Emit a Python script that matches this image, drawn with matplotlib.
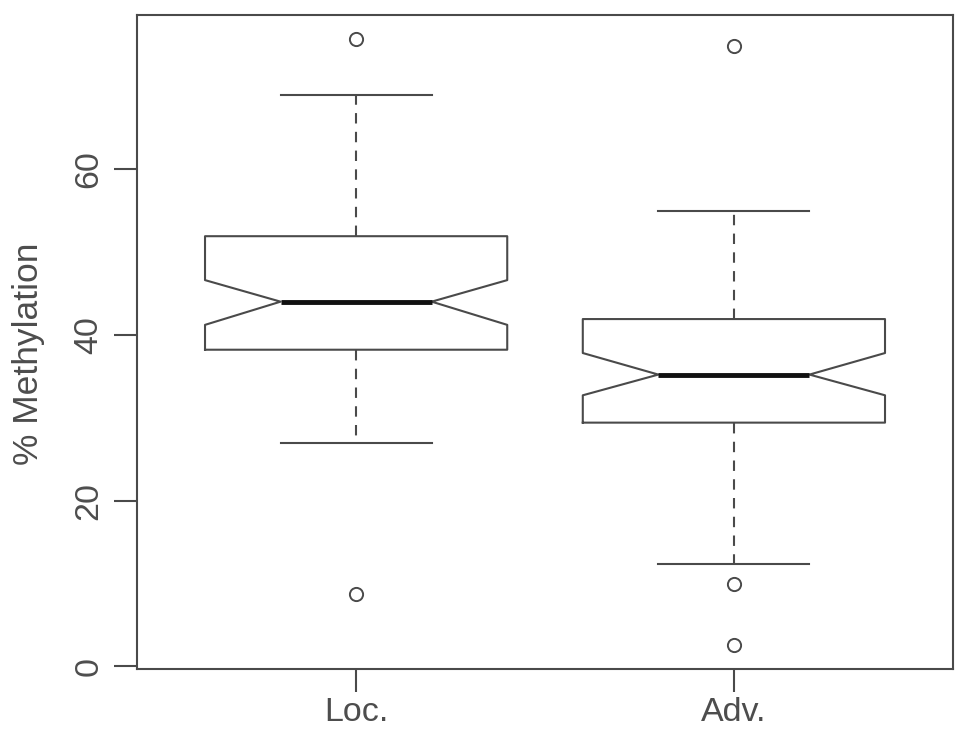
import matplotlib
matplotlib.use("Agg")
import matplotlib.pyplot as plt

categories = ["Loc.", "Adv."]
medians = [44.0, 35.2]
q1 = [38.2, 29.4]
q3 = [51.9, 41.9]
whislo = [27.0, 12.3]
whishi = [68.9, 54.9]
notch_lo = [41.2, 32.7]
notch_hi = [46.6, 37.8]
outliers = [[75.7, 8.7], [74.8, 9.9, 2.6]]
yticks = [0, 20, 40, 60]

plt.rcParams['font.family'] = ['Liberation Sans', 'DejaVu Sans']
line_c = '#4a4a4a'
text_c = '#4d4d4d'

fig = plt.figure(figsize=(9.69, 7.41), dpi=100)
ax = fig.add_axes([0.1414, 0.0972, 0.9835 - 0.1414, 0.9798 - 0.0972])

stats = []
for i, c in enumerate(categories):
    stats.append(dict(label=c, med=medians[i], q1=q1[i], q3=q3[i],
                      whislo=whislo[i], whishi=whishi[i],
                      cilo=notch_lo[i], cihi=notch_hi[i], fliers=outliers[i]))

lw = 1.5
ax.bxp(stats, positions=[1, 2], widths=0.8, shownotches=True,
       boxprops=dict(color=line_c, linewidth=lw),
       whiskerprops=dict(color=line_c, linewidth=lw, linestyle=(0, (5, 4))),
       capprops=dict(color=line_c, linewidth=lw),
       medianprops=dict(color='#111111', linewidth=3.5, solid_capstyle='butt'),
       flierprops=dict(marker='o', markersize=9.5, markerfacecolor='none',
                       markeredgecolor=line_c, markeredgewidth=1.4))

ax.set_xlim(0.42, 2.58)
ax.set_ylim(-0.33, 78.6)
ax.set_yticks(yticks)
ax.set_yticklabels([str(t) for t in yticks], rotation=90, va='center')
ax.set_xticks([1, 2])
ax.set_xticklabels(categories)
ax.tick_params(axis='both', length=16.5, width=1.5, color=line_c,
               labelsize=24.5, labelcolor=text_c)
ax.tick_params(axis='y', pad=7)
ax.tick_params(axis='x', pad=4)
for s in ax.spines.values():
    s.set_color(line_c)
    s.set_linewidth(1.5)
ax.set_ylabel("% Methylation", fontsize=25.5, color=text_c)
ax.yaxis.set_label_coords(-0.113, 0.482)

fig.savefig("out.png", dpi=100)
